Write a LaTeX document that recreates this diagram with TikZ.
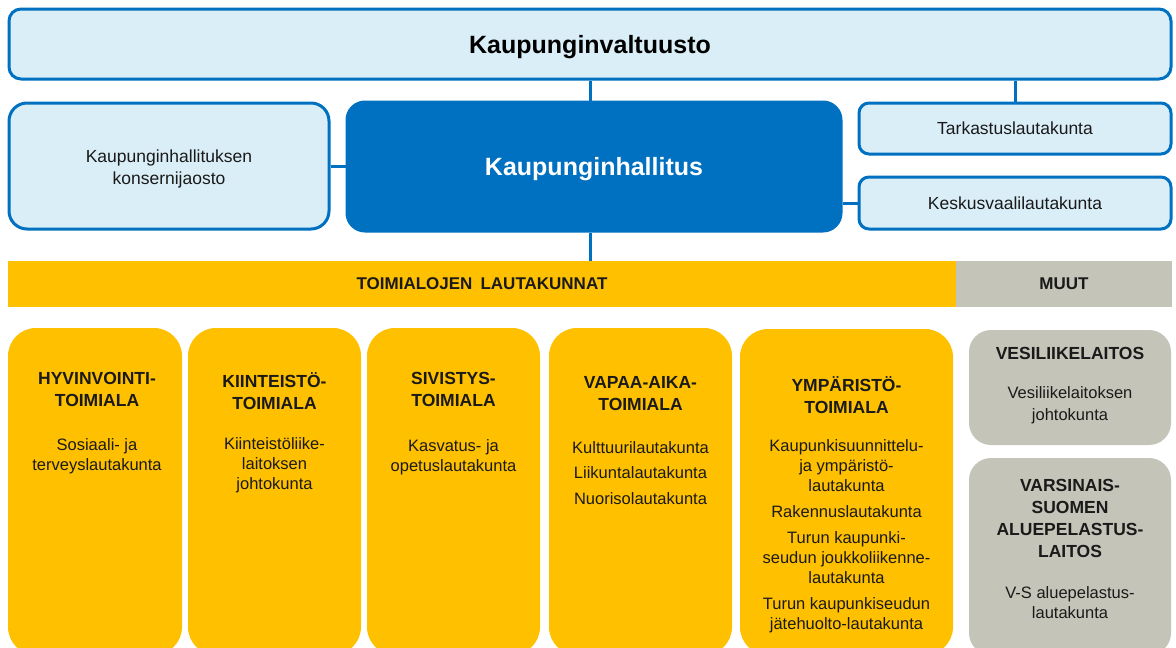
\documentclass[tikz,border=0pt]{standalone}
\usepackage{fontspec}
\setmainfont{Liberation Sans}
\definecolor{blu}{HTML}{0070C0}
\definecolor{lblu}{HTML}{DAEEF8}
\definecolor{yel}{HTML}{FFC000}
\definecolor{gry}{HTML}{C4C4B9}
\definecolor{txt}{HTML}{1A1A1A}
\begin{document}
\begin{tikzpicture}[x=1pt,y=-1pt,
  lbox/.style={draw=blu,line width=3pt,fill=lblu,rounded corners=#1,inner sep=0pt,text=txt,
    font=\fontsize{17.5}{22}\selectfont,align=center},
  lbox/.default=12pt,
  dbox/.style={draw=blu,line width=3pt,fill=blu,rounded corners=18pt,inner sep=0pt,text=white,
    font=\fontsize{25}{30}\selectfont\bfseries},
  ybox/.style={fill=yel,rounded corners=28pt,inner sep=0pt},
  gbox/.style={fill=gry,rounded corners=22pt,inner sep=0pt},
  barbox/.style={inner sep=0pt,text=txt,font=\fontsize{17}{20}\selectfont\bfseries},
  conn/.style={draw=blu,line width=3pt},
  hd/.style={font=\fontsize{17.5}{22}\selectfont\bfseries,align=center,inner sep=0pt,text=txt,anchor=north},
  bd/.style={font=\fontsize{16.5}{20}\selectfont,align=center,inner sep=0pt,text=txt,anchor=north}
]
\useasboundingbox (0,0) rectangle (1176,648);
\clip (0,0) rectangle (1176,648);

% top level
\node[lbox, minimum width=1162pt, minimum height=70pt] (valt) at (590,44) {};
\node[font=\fontsize{25}{30}\selectfont\bfseries, text=black, inner sep=0pt] (valtt) at (590,47.5) {Kaupunginvaltuusto};
\node[lbox=18pt, minimum width=320pt, minimum height=126pt] (kons) at (169,166) {};
\node[font=\fontsize{17.5}{22}\selectfont, text=txt, align=center, inner sep=0pt] (konst) at (169,168.5) {Kaupunginhallituksen\\konsernijaosto};
\node[dbox, minimum width=494pt, minimum height=129pt] (hall) at (594,166.5) {};
\node[font=\fontsize{25}{30}\selectfont\bfseries, text=white, inner sep=0pt] (hallt) at (594,169.5) {Kaupunginhallitus};
\node[lbox=10pt, minimum width=312pt, minimum height=51pt] (tark) at (1015,128.5) {Tarkastuslautakunta};
\node[lbox=10pt, minimum width=312pt, minimum height=52pt] (kesk) at (1015,203) {Keskusvaalilautakunta};

% bars
\node[barbox, fill=yel, minimum width=948pt, minimum height=46pt] (bar) at (482,284) {TOIMIALOJEN\hspace{0.2em} LAUTAKUNNAT};
\node[barbox, fill=gry, minimum width=216pt, minimum height=46pt] (muut) at (1064,284) {MUUT};

% connectors
\draw[conn] (valt.south) -- (valt.south |- hall.north);
\draw[conn] (tark.north) -- (tark.north |- valt.south);
\draw[conn] (kons.east) -- (kons.east -| hall.west);
\draw[conn] (kesk.west) -- (kesk.west -| hall.east);
\draw[conn] (valt.south |- hall.south) -- (valt.south |- bar.north);

% yellow boxes
\node[ybox, minimum width=174pt, minimum height=327pt] (y1) at (95,491.5) {};
\node[ybox, minimum width=173pt, minimum height=327pt] (y2) at (274.5,491.5) {};
\node[ybox, minimum width=173pt, minimum height=327pt] (y3) at (453.5,491.5) {};
\node[ybox, minimum width=183pt, minimum height=327pt] (y4) at (640.5,491.5) {};
\node[ybox, minimum width=213pt, minimum height=326pt] (y5) at (846.5,492) {};
\node[gbox, minimum width=202pt, minimum height=115pt] (g1) at (1070,387.5) {};
\node[gbox, minimum width=202pt, minimum height=197pt] (g2) at (1070,556.5) {};

% texts
\node[hd] (y1h) at (97,372) {HYVINVOINTI-\\TOIMIALA};
\node[bd] (y1b) at (97,438) {Sosiaali- ja\\terveyslautakunta};

\node[hd] (y2h) at (274.5,372) {KIINTEISTÖ-\\TOIMIALA};
\node[bd] (y2b) at (274.5,437) {Kiinteistöliike-\\laitoksen\\johtokunta};

\node[hd] (y3h) at (453.5,372) {SIVISTYS-\\TOIMIALA};
\node[bd] (y3b) at (453.5,439) {Kasvatus- ja\\opetuslautakunta};

\node[hd] (y4h) at (640.5,376) {VAPAA-AIKA-\\TOIMIALA};
\node[bd] (y4b) at (640.5,441) {Kulttuurilautakunta\\[5.5pt]Liikuntalautakunta\\[5.5pt]Nuorisolautakunta};

\node[hd] (y5h) at (846.5,376) {YMPÄRISTÖ-\\TOIMIALA};
\node[bd] (y5b) at (846.5,439) {Kaupunkisuunnittelu-\\ja ympäristö-\\lautakunta\\[6pt]Rakennuslautakunta\\[6pt]Turun kaupunki-\\seudun joukkoliikenne-\\lautakunta\\[6pt]Turun kaupunkiseudun\\jätehuolto-lautakunta};

\node[hd] (g1h) at (1070,347) {VESILIIKELAITOS};
\node[bd] (g1b) at (1070,386) {Vesiliikelaitoksen\\[2pt]johtokunta};

\node[hd] (g2h) at (1070,479) {VARSINAIS-\\SUOMEN\\ALUEPELASTUS-\\LAITOS};
\node[bd] (g2b) at (1070,586) {V-S aluepelastus-\\lautakunta};
\end{tikzpicture}
\end{document}
